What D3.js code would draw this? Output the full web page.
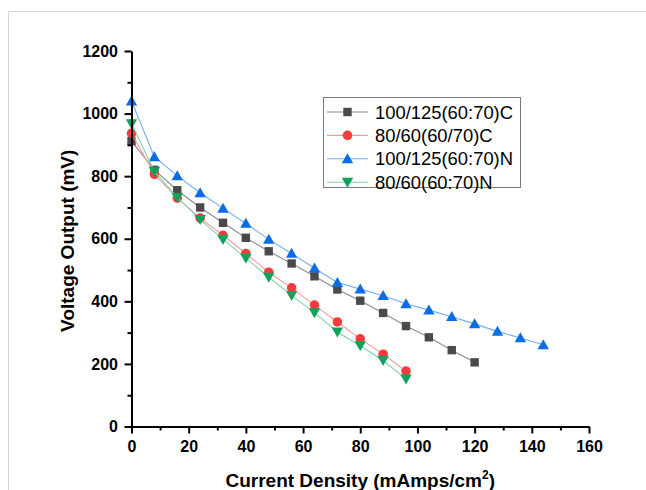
<!DOCTYPE html>
<html>
<head>
<meta charset="utf-8">
<script src="https://cdn.jsdelivr.net/npm/d3@7"></script>
<style>
  html, body { margin: 0; padding: 0; background: #fff; }
  svg { display: block; }
  text { font-family: Arial, "Liberation Sans", sans-serif; }
</style>
</head>
<body>
<svg id="chart" width="646" height="490"></svg>
<script>
// ---- data ----
const seriesNames = ["100/125(60:70)C", "80/60(60/70)C", "100/125(60:70)N", "80/60(60:70)N"];
const xBlack = [0, 8, 16, 24, 32, 40, 48, 56, 64, 72, 80, 88, 96, 104, 112, 120];
const yBlack = [912, 820, 755, 700, 651, 603, 560, 521, 480, 438, 402, 363, 321, 285, 244, 205];
const xRed = [0, 8, 16, 24, 32, 40, 48, 56, 64, 72, 80, 88, 96];
const yRed = [937, 806, 730, 666, 611, 553, 493, 443, 388, 334, 280, 231, 177];
const xBlue = [0, 8, 16, 24, 32, 40, 48, 56, 64, 72, 80, 88, 96, 104, 112, 120, 128, 136, 144];
const yBlue = [1040, 862, 801, 747, 697, 649, 598, 553, 506, 460, 439, 418, 392, 372, 351, 328, 304, 283, 261];
const xGreen = [0, 8, 16, 24, 32, 40, 48, 56, 64, 72, 80, 88, 96];
const yGreen = [968, 815, 732, 662, 598, 538, 477, 419, 364, 302, 258, 211, 152];
const xTicks = [0, 20, 40, 60, 80, 100, 120, 140, 160];
const yTicks = [0, 200, 400, 600, 800, 1000, 1200];
const xTitle = "Current Density (mAmps/cm";
const xTitleSup = "2";
const xTitleEnd = ")";
const yTitle = "Voltage Output (mV)";

// ---- styles ----
const markerColors = ["#4a4a4a", "#f53b3b", "#0a6de6", "#0ea35c"];
const lineColors = ["#8c8c8c", "#f89a9a", "#74aef0", "#7fd3a8"];
const shapes = ["square", "circle", "triUp", "triDown"];

const series = seriesNames.map((name, i) => {
  const xs = [xBlack, xRed, xBlue, xGreen][i];
  const ys = [yBlack, yRed, yBlue, yGreen][i];
  return { name, shape: shapes[i], mc: markerColors[i], lc: lineColors[i],
           pts: xs.map((x, j) => ({ x, y: ys[j] })) };
});

const svg = d3.select("#chart");

// frame
svg.append("path").attr("d", "M8.5,490 V11.5 H646").attr("fill", "none")
   .attr("stroke", "#d6d6d6").attr("stroke-width", 1);

const x = d3.scaleLinear().domain([0, 160]).range([131.5, 589]);
const y = d3.scaleLinear().domain([0, 1200]).range([426.5, 51]);

function markerPath(shape) {
  switch (shape) {
    case "square": return "M-4.2,-4.2H4.2V4.2H-4.2Z";
    case "circle": return d3.symbol(d3.symbolCircle, 72)();
    case "triUp": return "M0,-5.6L5.7,4.4H-5.7Z";
    case "triDown": return "M0,5.6L5.7,-4.4H-5.7Z";
  }
}

// lines and markers
const line = d3.line().x(d => x(d.x)).y(d => y(d.y));
series.forEach(s => {
  const g = svg.append("g");
  g.append("path").datum(s.pts).attr("d", line).attr("fill", "none")
    .attr("stroke", s.lc).attr("stroke-width", 1.1);
  g.selectAll("path.m").data(s.pts).enter().append("path").attr("class", "m")
    .attr("d", markerPath(s.shape))
    .attr("transform", d => `translate(${x(d.x)},${y(d.y)})`)
    .attr("fill", s.mc);
});

// axes
function styleAxis(g) {
  g.selectAll(".domain").attr("stroke", "#000").attr("stroke-width", 2);
  g.selectAll(".tick line").attr("stroke", "#000").attr("stroke-width", 2);
  g.selectAll("text").attr("font-size", 16).attr("font-weight", "bold").attr("fill", "#000")
    .attr("font-family", "Arial, 'Liberation Sans', sans-serif");
}
// minor ticks
const xMinor = d3.range(10, 160, 20);
const yMinor = d3.range(100, 1200, 200);
svg.append("g").attr("transform", `translate(0,${y(0)})`)
  .call(d3.axisBottom(x).tickValues(xMinor).tickSize(4).tickFormat(""))
  .call(g => { g.select(".domain").remove(); g.selectAll("line").attr("stroke", "#000").attr("stroke-width", 2); });
svg.append("g").attr("transform", `translate(${x(0)},0)`)
  .call(d3.axisLeft(y).tickValues(yMinor).tickSize(4).tickFormat(""))
  .call(g => { g.select(".domain").remove(); g.selectAll("line").attr("stroke", "#000").attr("stroke-width", 2); });

svg.append("g").attr("transform", `translate(0,${y(0)})`)
  .call(d3.axisBottom(x).tickValues(xTicks).tickSize(7).tickSizeOuter(0).tickPadding(7.5).tickFormat(d3.format("d")))
  .call(styleAxis);
svg.append("g").attr("transform", `translate(${x(0)},0)`)
  .call(d3.axisLeft(y).tickValues(yTicks).tickSize(7).tickSizeOuter(0).tickPadding(6.5).tickFormat(d3.format("d")))
  .call(styleAxis);

// axis titles
const xt = svg.append("text").attr("x", (x(0) + x(160)) / 2).attr("y", 487)
  .attr("text-anchor", "middle").attr("font-size", 19).attr("font-weight", "bold").attr("fill", "#000");
xt.append("tspan").text(xTitle);
xt.append("tspan").attr("font-size", 12).attr("dy", -8).text(xTitleSup);
xt.append("tspan").attr("dy", 8).text(xTitleEnd);

svg.append("text").attr("transform", `translate(74,${(y(0) + y(1200)) / 2 + 2}) rotate(-90)`)
  .attr("text-anchor", "middle").attr("font-size", 19).attr("font-weight", "bold").attr("fill", "#000")
  .text(yTitle);

// legend
const lg = svg.append("g");
lg.append("rect").attr("x", 323.5).attr("y", 97.5).attr("width", 197).attr("height", 90)
  .attr("fill", "#fff").attr("stroke", "#7a7a7a").attr("stroke-width", 1);
series.forEach((s, i) => {
  const cy = 112 + i * 23.4;
  lg.append("line").attr("x1", 327).attr("x2", 368).attr("y1", cy).attr("y2", cy)
    .attr("stroke", s.lc).attr("stroke-width", 1.1);
  lg.append("path").attr("d", markerPath(s.shape)).attr("transform", `translate(347.5,${cy})`)
    .attr("fill", s.mc);
  lg.append("text").attr("x", 375).attr("y", cy + 6.6).attr("font-size", 18.4).attr("fill", "#000")
    .text(s.name);
});
</script>
</body>
</html>
